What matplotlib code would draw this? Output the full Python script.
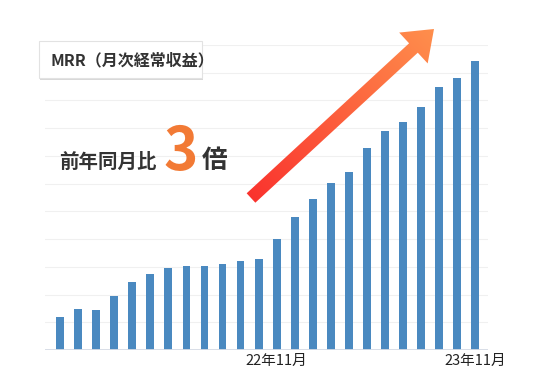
import matplotlib
matplotlib.use("Agg")
import matplotlib.pyplot as plt
from matplotlib.patches import Polygon, Rectangle
import numpy as np

plt.rcParams['font.family'] = ['Noto Sans CJK JP', 'DejaVu Sans']

# MRR in grid units, 24 months
mrr = [1.20, 1.49, 1.44, 1.96, 2.47, 2.74, 2.95, 3.03, 3.03, 3.09, 3.21, 3.27,
       4.00, 4.81, 5.46, 6.02, 6.43, 7.28, 7.91, 8.24, 8.76, 9.47, 9.81, 10.41]
tick_pos = [12, 23]
tick_labels = ['22年11月', '23年11月']
title = 'MRR（月次経常収益）'
lead = '前年同月比'
ratio = '3'
unit = '倍'

W, H = 536, 391
fig = plt.figure(figsize=(W / 100, H / 100), dpi=100)
fig.patch.set_facecolor('white')

# bar chart
ax = fig.add_axes([45 / W, (H - 350) / H, (488 - 45) / W, (350 - 45) / H])
x = np.arange(len(mrr))
ax.set_xlim(-0.83, 23.7)
ax.set_ylim(0, 11)
for g in range(1, 12):
    ax.axhline(g, color='#f0f0f0', lw=0.8, zorder=0)
ax.axhline(0, color='#d5dbe5', lw=1.3, zorder=3)
ax.bar(x, mrr, width=0.43, color='#4a89c0', zorder=2)
ax.set_yticks([])
ax.set_xticks(tick_pos)
ax.set_xticklabels(tick_labels, fontsize=10.5, color='#222222')
ax.tick_params(axis='x', length=0, pad=3)
for s in ax.spines.values():
    s.set_visible(False)
ax.patch.set_alpha(0)

# overlay in pixel coords
ov = fig.add_axes([0, 0, 1, 1])
ov.set_xlim(0, W)
ov.set_ylim(H, 0)
ov.axis('off')
ov.patch.set_alpha(0)

# arrow with gradient
T = np.array([251.0, 198.0])
P = np.array([434.0, 29.0])
d = (P - T) / np.linalg.norm(P - T)
n = np.array([-d[1], d[0]])
head_len, head_w, shaft_w = 28.0, 21.0, 6.4
B = P - d * head_len
pts = [T + n * shaft_w, B + n * shaft_w, B + n * head_w, P,
       B - n * head_w, B - n * shaft_w, T - n * shaft_w]
arrow = Polygon(pts, closed=True, facecolor='none', edgecolor='none')
ov.add_patch(arrow)
xs = np.linspace(230, 460, 200)
ys = np.linspace(10, 220, 200)
XX, YY = np.meshgrid(xs, ys)
t = ((XX - T[0]) * d[0] + (YY - T[1]) * d[1]) / np.linalg.norm(P - T)
t = np.clip(t, 0, 1)
c0 = np.array([0.98, 0.20, 0.18])
c1 = np.array([1.00, 0.56, 0.30])
img = c0[None, None, :] * (1 - t[..., None]) + c1[None, None, :] * t[..., None]
im = ov.imshow(img, extent=(230, 460, 220, 10), zorder=4, interpolation='bilinear')
im.set_clip_path(arrow)
ov.set_xlim(0, W)
ov.set_ylim(H, 0)

# title box
ov.add_patch(Rectangle((40, 43), 163, 37, facecolor='#d8d8d8', edgecolor='none', zorder=5))
ov.add_patch(Rectangle((39, 41), 163, 37, facecolor='white', edgecolor='#e2e2e2', lw=0.8, zorder=6))
ov.text(51, 60, title, fontsize=11.5, fontweight='bold', color='#333333',
        va='center', ha='left', zorder=7)

# headline
ov.text(59, 162, lead, fontsize=14, fontweight='bold', color='#333333',
        va='center', ha='left', zorder=7)
ov.text(181, 170, ratio, fontsize=42, fontweight='bold', color='#f27a35',
        va='baseline', ha='center', zorder=7)
ov.text(202, 161, unit, fontsize=18.5, fontweight='bold', color='#333333',
        va='center', ha='left', zorder=7)

fig.savefig('out.png', dpi=100)
